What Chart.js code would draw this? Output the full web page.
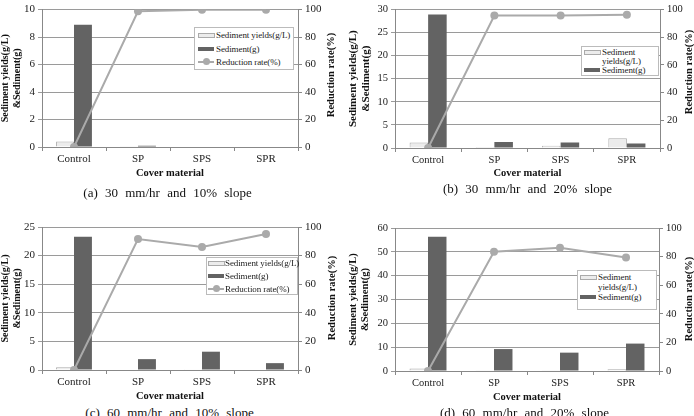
<!DOCTYPE html>
<html>
<head>
<meta charset="utf-8">
<script src="https://cdn.jsdelivr.net/npm/chart.js@4.4.1/dist/chart.umd.min.js"></script>
<style>
body { margin: 0; width: 694px; height: 416px; overflow: hidden; background: #fff; position: relative; font-family: "Liberation Serif", serif; color: #222; }
canvas { position: absolute; }
.legend { position: absolute; border: 1px solid #bbb; background: #fff; font-size: 9px; letter-spacing: -0.1px; }
.legend .row { position: absolute; left: 0; white-space: nowrap; line-height: 10px; }
.sw { position: absolute; top: 3px; width: 16px; height: 4px; }
.sw.light { background: #ececec; border: 1px solid #aaa; height: 3px; width: 15px; }
.sw.dark { background: #636363; }
.sw.line { top: 4px; height: 2px; background: #aaa; }
.sw.line::after { content: ""; position: absolute; left: 5px; top: -3px; width: 7px; height: 7px; border-radius: 50%; background: #aaa; }
.rtitle { position: absolute; transform: translate(-50%, -50%) rotate(-90deg); white-space: nowrap; font-weight: bold; font-size: 10.5px; color: #111; }
.caption { position: absolute; width: 347px; text-align: center; font-size: 13px; word-spacing: 4px; color: #111; }
</style>
</head>
<body>
<canvas id="chart_a" width="347" height="182" style="left:0;top:0"></canvas>
<canvas id="chart_b" width="347" height="182" style="left:347px;top:0"></canvas>
<canvas id="chart_c" width="347" height="197" style="left:0;top:208px"></canvas>
<canvas id="chart_d" width="347" height="198" style="left:347px;top:208px"></canvas>

<div class="legend" style="left:194px;top:27px;width:98px;height:41px">
  <div class="row" style="top:2px"><span class="sw light" style="left:3px"></span><span style="margin-left:21px">Sediment yields(g/L)</span></div>
  <div class="row" style="top:16px"><span class="sw dark" style="left:3px"></span><span style="margin-left:21px">Sediment(g)</span></div>
  <div class="row" style="top:29px"><span class="sw line" style="left:3px"></span><span style="margin-left:21px">Reduction rate(%)</span></div>
</div>
<div class="legend" style="left:581px;top:46px;width:76px;height:28px">
  <div class="row" style="top:0px"><span class="sw light" style="left:2px"></span><span style="margin-left:20px">Sediment</span></div>
  <div class="row" style="top:9px"><span style="margin-left:20px">yields(g/L)</span></div>
  <div class="row" style="top:18px"><span class="sw dark" style="left:2px"></span><span style="margin-left:20px">Sediment(g)</span></div>
</div>
<div class="legend" style="left:206px;top:257px;width:90px;height:36px">
  <div class="row" style="top:0px"><span class="sw light" style="left:1px"></span><span style="margin-left:18px">Sediment yields(g/L)</span></div>
  <div class="row" style="top:13px"><span class="sw dark" style="left:1px"></span><span style="margin-left:18px">Sediment(g)</span></div>
  <div class="row" style="top:26px"><span class="sw line" style="left:1px"></span><span style="margin-left:18px">Reduction rate(%)</span></div>
</div>
<div class="legend" style="left:577px;top:270px;width:78px;height:38px">
  <div class="row" style="top:1px"><span class="sw light" style="left:2px"></span><span style="margin-left:20px">Sediment</span></div>
  <div class="row" style="top:11px"><span style="margin-left:20px">yields(g/L)</span></div>
  <div class="row" style="top:21px"><span class="sw dark" style="left:2px"></span><span style="margin-left:20px">Sediment(g)</span></div>
</div>

<div class="rtitle" style="left:330px;top:75px">Reduction rate(%)</div>
<div class="rtitle" style="left:688px;top:72px">Reduction rate(%)</div>
<div class="rtitle" style="left:331px;top:298px">Reduction rate(%)</div>
<div class="rtitle" style="left:688px;top:299px">Reduction rate(%)</div>

<div class="caption" style="left:-6px;top:185px">(a) 30 mm/hr and 10% slope</div>
<div class="caption" style="left:354px;top:181px">(b) 30 mm/hr and 20% slope</div>
<div class="caption" style="left:-4px;top:405px">(c) 60 mm/hr and 10% slope</div>
<div class="caption" style="left:351px;top:405px">(d) 60 mm/hr and 20% slope</div>

<script>
const categories = ['Control', 'SP', 'SPS', 'SPR'];

// (a) 30 mm/hr, 10% slope
const yieldsA = [0.4, 0.05, 0, 0];
const sedimentA = [8.9, 0.1, 0, 0];
const reductionA = [0, 98.8, 99.8, 99.8];

// (b) 30 mm/hr, 20% slope
const yieldsB = [1.2, 0.2, 0.5, 2.1];
const sedimentB = [28.9, 1.3, 1.2, 1.0];
const reductionB = [0, 95.5, 95.6, 96.1];

// (c) 60 mm/hr, 10% slope
const yieldsC = [0.5, 0.1, 0.15, 0.1];
const sedimentC = [23.3, 1.9, 3.2, 1.2];
const reductionC = [0, 91.6, 86, 95.1];

// (d) 60 mm/hr, 20% slope
const yieldsD = [1.1, 0.3, 0.3, 0.7];
const sedimentD = [56.3, 9.2, 7.7, 11.5];
const reductionD = [0, 83.4, 86.2, 79.4];

const leftMax = { a: 10, b: 30, c: 25, d: 60 };
const leftStep = { a: 2, b: 5, c: 5, d: 10 };

const gridColor = '#9a9a9a';
const axisColor = '#888';

function makeChart(id, yields, sediment, reduction, max, step, box, fs) {
    new Chart(document.getElementById(id), {
        type: 'bar',
        data: {
            labels: categories,
            datasets: [{
                type: 'line',
                label: 'Reduction rate(%)',
                data: reduction,
                yAxisID: 'y2',
                order: -1,
                borderColor: '#aaa',
                borderWidth: 2,
                pointRadius: 4,
                pointBackgroundColor: '#aaa',
                pointBorderWidth: 0,
                tension: 0
            }, {
                label: 'Sediment yields(g/L)',
                data: yields,
                yAxisID: 'y',
                backgroundColor: '#ececec',
                borderColor: '#aaa',
                borderWidth: 1,
                categoryPercentage: 0.56,
                barPercentage: 1
            }, {
                label: 'Sediment(g)',
                data: sediment,
                yAxisID: 'y',
                backgroundColor: '#636363',
                categoryPercentage: 0.56,
                barPercentage: 1
            }]
        },
        options: {
            responsive: false,
            animation: false,
            layout: { padding: { top: box.top, left: 0, right: 0, bottom: 0 } },
            plugins: { legend: { display: false }, tooltip: { enabled: false } },
            scales: {
                x: {
                    grid: { offset: true, drawOnChartArea: false, tickLength: 4, color: axisColor },
                    border: { color: axisColor },
                    ticks: { font: { family: 'Liberation Serif', size: fs }, color: '#222', padding: 2 },
                    title: {
                        display: true,
                        text: 'Cover material',
                        font: { family: 'Liberation Serif', size: 10.5, weight: 'bold' },
                        color: '#111',
                        padding: { top: 0, bottom: 2 }
                    },
                    afterFit: s => { s.height = box.xh; }
                },
                y: {
                    position: 'left',
                    min: 0,
                    max: max,
                    ticks: { stepSize: step, font: { family: 'Liberation Serif', size: fs }, color: '#222', padding: 3 },
                    grid: { color: gridColor, tickLength: 4 },
                    border: { color: axisColor },
                    title: {
                        display: true,
                        text: ['Sediment yields(g/L)', '&Sediment(g)'],
                        font: { family: 'Liberation Serif', size: box.tfs, weight: 'bold', lineHeight: 1.15 },
                        color: '#111',
                        padding: { top: 0, bottom: 0 }
                    },
                    afterFit: s => { s.width = box.left; }
                },
                y2: {
                    position: 'right',
                    min: 0,
                    max: 100,
                    ticks: { stepSize: 20, font: { family: 'Liberation Serif', size: fs }, color: '#222', padding: 3 },
                    grid: { drawOnChartArea: false, tickLength: 4, color: axisColor },
                    border: { color: axisColor },
                    afterFit: s => { s.width = box.right; }
                }
            }
        }
    });
}

makeChart('chart_a', yieldsA, sedimentA, reductionA, leftMax.a, leftStep.a,
    { top: 6, left: 42, right: 49, xh: 35, tfs: 10 }, 11);
makeChart('chart_b', yieldsB, sedimentB, reductionB, leftMax.b, leftStep.b,
    { top: 7, left: 48, right: 34, xh: 34, tfs: 11 }, 10.5);
makeChart('chart_c', yieldsC, sedimentC, reductionC, leftMax.c, leftStep.c,
    { top: 19, left: 42, right: 49, xh: 35, tfs: 10 }, 11);
makeChart('chart_d', yieldsD, sedimentD, reductionD, leftMax.d, leftStep.d,
    { top: 20, left: 48, right: 35, xh: 35, tfs: 10.5 }, 10.5);
</script>
</body>
</html>
